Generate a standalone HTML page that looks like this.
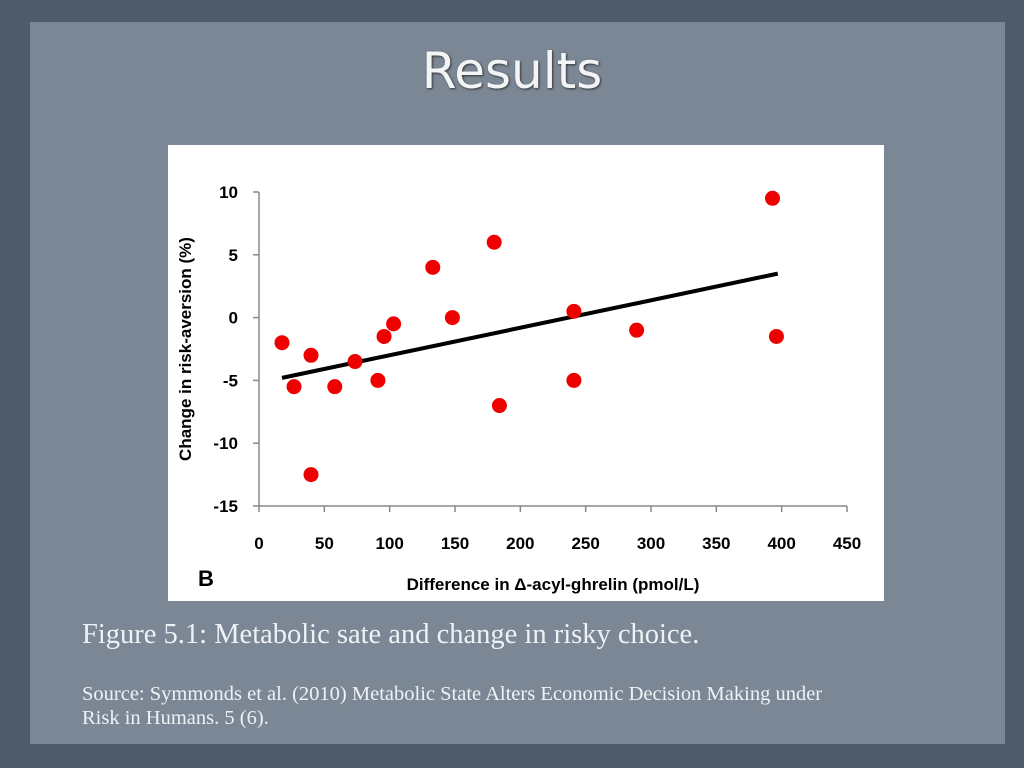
<!DOCTYPE html>
<html><head><meta charset="utf-8"><style>
body{margin:0;width:1024px;height:768px;background:#4e5b6a;position:relative;overflow:hidden;font-family:"Liberation Sans",sans-serif}
#panel{position:absolute;left:30px;top:22px;width:975px;height:722px;background:#7b8794}
#title{position:absolute;left:0;width:1024px;top:42px;text-align:center;color:#f2f4f6;font-size:50px;font-family:"DejaVu Sans","Liberation Sans",sans-serif;text-shadow:1px 1px 2px #333}
#chart{position:absolute;left:168px;top:145px;width:716px;height:456px;background:#fff}
.cap{position:absolute;left:82px;color:#eef2f6;font-family:"Liberation Serif",serif;white-space:nowrap}
</style></head><body>
<div id="panel"></div>
<div id="title">Results</div>
<svg id="chart" width="716" height="456" viewBox="168 145 716 456">
<g id="axes"></g><g id="marks"></g>
<text x="198" y="586" font-size="22" font-weight="bold" font-family="Liberation Sans">B</text>
<text x="553" y="590" font-size="17" font-weight="bold" text-anchor="middle" font-family="Liberation Sans">Difference in Δ-acyl-ghrelin (pmol/L)</text>
<text transform="translate(191,349) rotate(-90)" font-size="17" font-weight="bold" text-anchor="middle" font-family="Liberation Sans">Change in risk-aversion (%)</text>
</svg>
<div class="cap" style="top:619px;font-size:28.5px">Figure 5.1: Metabolic sate and change in risky choice.</div>
<div class="cap" style="top:682px;font-size:20.5px;line-height:24px">Source: Symmonds et al. (2010) Metabolic State Alters Economic Decision Making under<br>Risk in Humans. 5 (6).</div>
<script>
const xVals=[17.6,26.8,39.8,39.8,58,73.5,91,95.7,103,133,148,180,184,241,241,289,393,396];
const yVals=[-2,-5.5,-3,-12.5,-5.5,-3.5,-5,-1.5,-0.5,4,0,6,-7,0.5,-5,-1,9.5,-1.5];
const xTicks=[0,50,100,150,200,250,300,350,400,450];
const yTicks=[10,5,0,-5,-10,-15];
const trendX=[17.6,397];
const trendSlope=0.02188, trendIntercept=-5.185;
const sx=v=>259+v*(588/450);
const sy=v=>317.6-v*12.56;
const NS="http://www.w3.org/2000/svg";
const ax=document.getElementById('axes'), mk=document.getElementById('marks');
function el(t,a,p){const e=document.createElementNS(NS,t);for(const k in a)e.setAttribute(k,a[k]);p.appendChild(e);return e;}
let l=el('line',{x1:sx(0),y1:sy(10),x2:sx(0),y2:sy(-15),stroke:'#888','stroke-width':1.5},ax);


l=el('line',{x1:sx(0),y1:sy(-15),x2:sx(450),y2:sy(-15),stroke:'#888','stroke-width':1.5},ax);


yTicks.forEach(v=>{
 el('line',{x1:sx(0)-6,y1:sy(v),x2:sx(0),y2:sy(v),stroke:'#888','stroke-width':1.5},ax);
 const t=el('text',{x:238,y:sy(v)+6,'font-size':17,'font-weight':'bold','text-anchor':'end','font-family':'Liberation Sans'},ax);
 t.textContent=v;
 
 
});
xTicks.forEach(v=>{
 el('line',{x1:sx(v),y1:sy(-15),x2:sx(v),y2:sy(-15)+6,stroke:'#888','stroke-width':1.5},ax);
 const t=el('text',{x:sx(v),y:549,'font-size':17,'font-weight':'bold','text-anchor':'middle','font-family':'Liberation Sans'},ax);
 t.textContent=v;
 
 
});
const tl=el('line',{x1:sx(trendX[0]),y1:sy(trendIntercept+trendSlope*trendX[0]),x2:sx(trendX[1]),y2:sy(trendIntercept+trendSlope*trendX[1]),stroke:'#000','stroke-width':4},mk);


xVals.forEach((x,i)=>{
 const c=el('circle',{cx:sx(x),cy:sy(yVals[i]),r:7.5,fill:'#ee0000'},mk);
 
 
});
</script>
</body></html>
